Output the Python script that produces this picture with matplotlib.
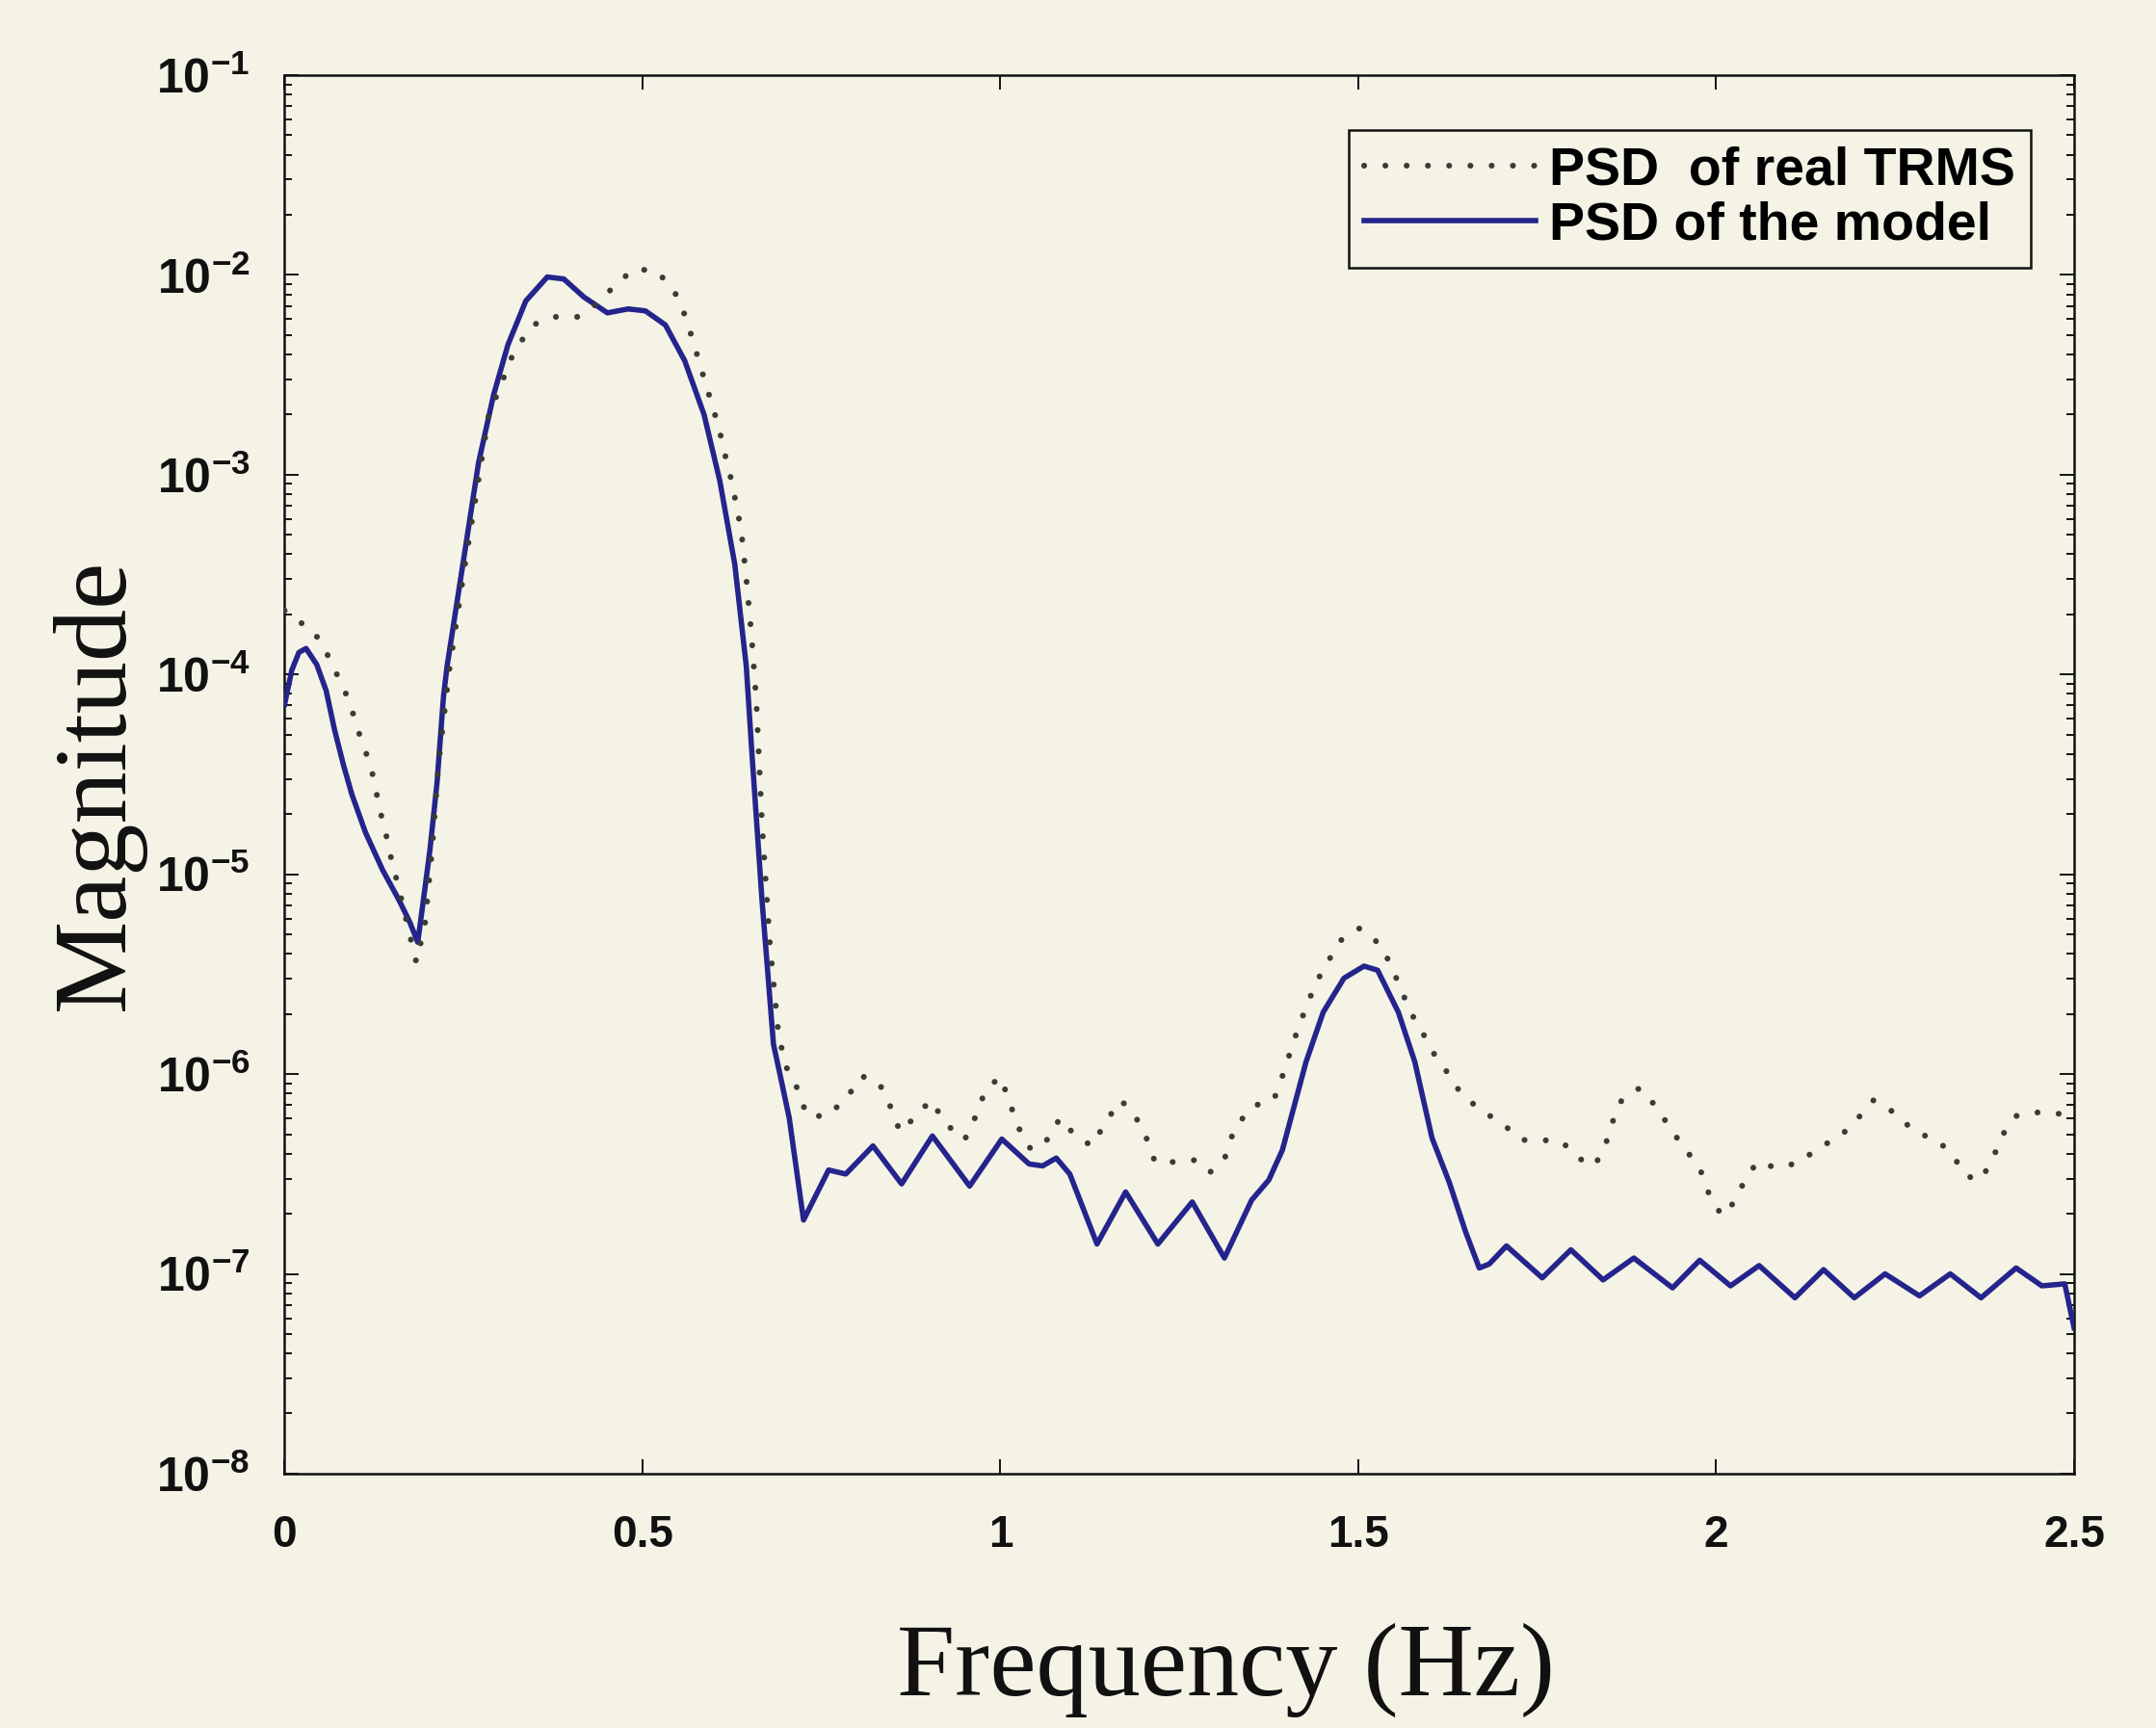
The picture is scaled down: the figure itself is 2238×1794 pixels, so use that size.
import math
import matplotlib
matplotlib.use("Agg")
import matplotlib.pyplot as plt
from matplotlib.ticker import LogLocator, FuncFormatter, FixedLocator, NullFormatter

plt.rcParams["mathtext.fontset"] = "custom"
plt.rcParams["mathtext.rm"] = "Liberation Sans:bold"
plt.rcParams["mathtext.bf"] = "Liberation Sans:bold"

# PSD of the identified model
freq_model = [0.000, 0.010, 0.020, 0.030, 0.045, 0.058, 0.070, 0.082, 0.094, 0.113,
              0.137, 0.160, 0.175, 0.186, 0.195, 0.203, 0.213, 0.222, 0.227, 0.249,
              0.271, 0.292, 0.312, 0.337, 0.367, 0.390, 0.418, 0.451, 0.480, 0.504,
              0.532, 0.559, 0.586, 0.608, 0.629, 0.645, 0.653, 0.667, 0.683, 0.695,
              0.705, 0.725, 0.760, 0.784, 0.822, 0.862, 0.905, 0.957, 1.002, 1.040,
              1.059, 1.078, 1.097, 1.135, 1.175, 1.220, 1.268, 1.313, 1.351, 1.375,
              1.394, 1.427, 1.451, 1.480, 1.508, 1.527, 1.556, 1.579, 1.603, 1.627,
              1.650, 1.669, 1.683, 1.707, 1.757, 1.797, 1.842, 1.885, 1.939, 1.977,
              2.020, 2.060, 2.110, 2.150, 2.193, 2.236, 2.284, 2.327, 2.370, 2.419,
              2.455, 2.487, 2.500]
psd_model = [7.08e-5, 1.05e-4, 1.29e-4, 1.35e-4, 1.12e-4, 8.32e-5, 5.25e-5, 3.55e-5, 2.51e-5, 1.62e-5,
             1.05e-5, 7.41e-6, 5.75e-6, 4.57e-6, 7.94e-6, 1.32e-5, 2.88e-5, 7.76e-5, 1.10e-4, 3.55e-4,
             1.15e-3, 2.51e-3, 4.47e-3, 7.41e-3, 9.77e-3, 9.55e-3, 7.76e-3, 6.46e-3, 6.76e-3, 6.61e-3,
             5.62e-3, 3.72e-3, 2.00e-3, 9.33e-4, 3.55e-4, 1.10e-4, 3.98e-5, 7.41e-6, 1.41e-6, 8.91e-7,
             6.03e-7, 1.86e-7, 3.31e-7, 3.16e-7, 4.37e-7, 2.82e-7, 4.90e-7, 2.75e-7, 4.73e-7, 3.55e-7,
             3.47e-7, 3.80e-7, 3.16e-7, 1.41e-7, 2.57e-7, 1.41e-7, 2.29e-7, 1.20e-7, 2.34e-7, 2.95e-7,
             4.17e-7, 1.15e-6, 2.04e-6, 3.02e-6, 3.47e-6, 3.31e-6, 2.04e-6, 1.15e-6, 4.79e-7, 2.88e-7,
             1.62e-7, 1.07e-7, 1.12e-7, 1.38e-7, 9.55e-8, 1.32e-7, 9.33e-8, 1.20e-7, 8.51e-8, 1.17e-7,
             8.71e-8, 1.10e-7, 7.59e-8, 1.05e-7, 7.59e-8, 1.00e-7, 7.76e-8, 1.00e-7, 7.59e-8, 1.07e-7,
             8.71e-8, 8.91e-8, 5.37e-8]

# PSD measured on the real TRMS
freq_real = [0.000, 0.017, 0.038, 0.057, 0.072, 0.085, 0.097, 0.108, 0.120, 0.127,
             0.134, 0.143, 0.150, 0.159, 0.168, 0.184, 0.196, 0.206, 0.215, 0.230,
             0.252, 0.272, 0.286, 0.301, 0.312, 0.325, 0.347, 0.376, 0.410, 0.438,
             0.462, 0.488, 0.519, 0.543, 0.557, 0.568, 0.578, 0.587, 0.598, 0.607,
             0.616, 0.625, 0.638, 0.645, 0.652, 0.659, 0.667, 0.678, 0.690, 0.700,
             0.716, 0.730, 0.759, 0.787, 0.806, 0.830, 0.846, 0.860, 0.882, 0.903,
             0.924, 0.950, 0.967, 0.979, 1.000, 1.012, 1.024, 1.043, 1.069, 1.083,
             1.105, 1.128, 1.147, 1.168, 1.187, 1.204, 1.216, 1.244, 1.275, 1.294,
             1.315, 1.327, 1.353, 1.382, 1.395, 1.405, 1.417, 1.429, 1.440, 1.457,
             1.476, 1.502, 1.530, 1.545, 1.559, 1.573, 1.588, 1.604, 1.626, 1.644,
             1.671, 1.702, 1.728, 1.757, 1.785, 1.807, 1.830, 1.845, 1.854, 1.868,
             1.893, 1.918, 1.937, 1.958, 1.978, 1.990, 2.008, 2.023, 2.039, 2.057,
             2.085, 2.119, 2.141, 2.171, 2.196, 2.220, 2.252, 2.277, 2.309, 2.331,
             2.349, 2.370, 2.388, 2.399, 2.419, 2.453, 2.483, 2.500]
psd_real = [2.09e-4, 1.86e-4, 1.70e-4, 1.32e-4, 1.02e-4, 8.13e-5, 6.17e-5, 4.57e-5, 3.55e-5, 2.69e-5,
            2.04e-5, 1.51e-5, 1.15e-5, 8.71e-6, 6.31e-6, 3.63e-6, 5.62e-6, 1.32e-5, 3.55e-5, 1.05e-4,
            3.55e-4, 1.00e-3, 2.09e-3, 2.69e-3, 3.55e-3, 4.37e-3, 5.62e-3, 6.17e-3, 6.17e-3, 7.24e-3,
            8.91e-3, 1.07e-2, 1.05e-2, 8.51e-3, 6.61e-3, 5.01e-3, 3.80e-3, 2.95e-3, 2.19e-3, 1.70e-3,
            1.23e-3, 9.12e-4, 5.25e-4, 3.02e-4, 1.62e-4, 7.41e-5, 1.78e-5, 4.47e-6, 1.58e-6, 1.10e-6,
            8.51e-7, 6.17e-7, 6.17e-7, 7.76e-7, 9.77e-7, 9.12e-7, 6.92e-7, 5.13e-7, 6.17e-7, 7.41e-7,
            5.62e-7, 4.68e-7, 6.31e-7, 8.32e-7, 9.70e-7, 7.41e-7, 5.50e-7, 4.17e-7, 4.79e-7, 6.03e-7,
            4.90e-7, 4.37e-7, 5.75e-7, 7.41e-7, 6.31e-7, 4.79e-7, 3.63e-7, 3.63e-7, 3.72e-7, 3.24e-7,
            3.89e-7, 5.37e-7, 6.92e-7, 7.41e-7, 1.00e-6, 1.29e-6, 1.74e-6, 2.24e-6, 2.82e-6, 3.63e-6,
            4.68e-6, 5.37e-6, 4.47e-6, 3.55e-6, 2.69e-6, 2.04e-6, 1.66e-6, 1.29e-6, 1.00e-6, 7.94e-7,
            6.61e-7, 5.62e-7, 4.68e-7, 4.68e-7, 4.57e-7, 3.80e-7, 3.47e-7, 4.37e-7, 5.62e-7, 7.41e-7,
            8.51e-7, 6.76e-7, 5.25e-7, 4.17e-7, 3.31e-7, 2.51e-7, 1.95e-7, 2.24e-7, 2.88e-7, 3.63e-7,
            3.39e-7, 3.63e-7, 4.27e-7, 4.79e-7, 5.89e-7, 7.41e-7, 6.31e-7, 5.13e-7, 4.68e-7, 3.89e-7,
            3.09e-7, 2.95e-7, 3.89e-7, 4.90e-7, 6.17e-7, 6.46e-7, 6.31e-7, 6.31e-7]

x_ticks = [0, 0.5, 1, 1.5, 2, 2.5]
x_tick_labels = ["0", "0.5", "1", "1.5", "2", "2.5"]
legend_labels = ["PSD  of real TRMS", "PSD of the model"]

paper = "#f4f3e6"
ink = "#111111"

fig = plt.figure(figsize=(22.38, 17.94), dpi=100, facecolor=paper)
ax = fig.add_axes([0.132, 0.1472, 0.830, 0.8093])
ax.set_facecolor(paper)

ax.semilogy(freq_model, psd_model, color="#24248c", lw=4.0,
            solid_joinstyle="round", label=legend_labels[1], zorder=3)
ax.semilogy(freq_real, psd_real, color="#3c3c36", lw=4.4,
            linestyle=(0, (0.01, 3.6)), dash_capstyle="round",
            label=legend_labels[0], zorder=4)

ax.set_xlim(0, 2.5)
ax.set_ylim(1e-8, 1e-1)

ax.xaxis.set_major_locator(FixedLocator(x_ticks))
ax.set_xticklabels(x_tick_labels)
ax.yaxis.set_major_locator(LogLocator(base=10, numticks=20))
ax.yaxis.set_minor_locator(LogLocator(base=10, subs=range(2, 10), numticks=20))
ax.yaxis.set_minor_formatter(NullFormatter())
ax.yaxis.set_major_formatter(FuncFormatter(
    lambda v, _: r"$\mathbf{10^{%d}}$" % round(math.log10(v))))

for side in ax.spines.values():
    side.set_linewidth(1.8)
    side.set_color(ink)

ax.tick_params(which="both", direction="in", top=True, right=True,
               colors=ink, width=1.4)
ax.tick_params(which="major", length=11)
ax.tick_params(which="minor", length=5.5)
ax.tick_params(axis="x", pad=30)
ax.tick_params(axis="y", pad=26)
for lab in ax.get_xticklabels():
    lab.set_fontfamily("Liberation Sans")
    lab.set_fontweight("bold")
    lab.set_fontsize(33)
for lab in ax.get_yticklabels():
    lab.set_fontfamily("Liberation Sans")
    lab.set_fontweight("bold")
    lab.set_fontsize(36)

ax.set_xlabel("Frequency (Hz)", fontfamily="Liberation Serif", fontsize=78, color=ink)
ax.set_ylabel("Magnitude", fontfamily="Liberation Serif", fontsize=78, color=ink)
ax.xaxis.set_label_coords(0.526, -0.107)
ax.yaxis.set_label_coords(-0.078, 0.493)

handles, labels = ax.get_legend_handles_labels()
leg = ax.legend(handles[::-1], labels[::-1], loc="upper right",
                bbox_to_anchor=(0.976, 0.961), frameon=True, fancybox=False,
                handlelength=3.2, handletextpad=0.25, borderpad=0.3,
                labelspacing=0.1, borderaxespad=0,
                prop={"family": "Liberation Sans", "weight": "bold", "size": 40})
leg.get_frame().set_edgecolor(ink)
leg.get_frame().set_linewidth(1.8)
leg.get_frame().set_facecolor(paper)
leg.get_frame().set_alpha(1)

fig.savefig("out.png", dpi=100, facecolor=paper)
